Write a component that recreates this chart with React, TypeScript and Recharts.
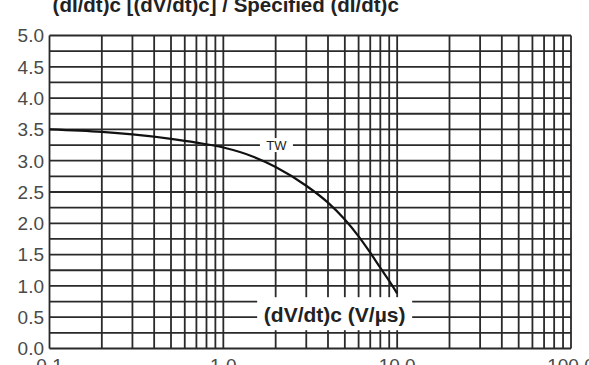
import { LineChart, Line, XAxis, YAxis, ReferenceLine, ReferenceDot } from 'recharts'

// commutating dV/dt (V/µs) vs ratio of commutating dI/dt to its specified value
const rateX = [0.1, 0.2, 0.3, 0.5, 0.7, 1, 1.5, 2, 3, 4, 5, 6, 7, 8, 9, 10]
const ratioY = [3.5, 3.46, 3.42, 3.35, 3.29, 3.21, 3.06, 2.9, 2.6, 2.33, 2.06, 1.79, 1.53, 1.29, 1.08, 0.88]

const xTicks = [0.1, 1, 10, 100]
const xTickLabels = ['0.1', '1.0', '10.0', '100.0']
const yTicks = [0, 0.5, 1, 1.5, 2, 2.5, 3, 3.5, 4, 4.5, 5]
const yTickLabels = ['0.0', '0.5', '1.0', '1.5', '2.0', '2.5', '3.0', '3.5', '4.0', '4.5', '5.0']

const gridX = [
  0.1, 0.2, 0.3, 0.4, 0.5, 0.6, 0.7, 0.8, 0.9,
  1, 2, 3, 4, 5, 6, 7, 8, 9,
  10, 20, 30, 40, 50, 60, 70, 80, 90, 100,
]
const gridY = [
  0, 0.25, 0.5, 0.75, 1, 1.25, 1.5, 1.75, 2, 2.25, 2.5,
  2.75, 3, 3.25, 3.5, 3.75, 4, 4.25, 4.5, 4.75, 5,
]

const title = '(dI/dt)c [(dV/dt)c] / Specified (dI/dt)c'
const seriesName = 'TW'
const xName = '(dV/dt)c (V/µs)'

const curve = rateX.map((x, i) => ({ x, y: ratioY[i] }))

const FONT = '"Liberation Sans", Arial, Helvetica, sans-serif'
const GRID = '#2a2a2a'

const XTick = (props: any) => {
  const { x, y, payload } = props
  const label = xTickLabels[xTicks.indexOf(payload.value)]
  return (
    <text x={x} y={y + 15} textAnchor="middle" fontSize={19} fontFamily={FONT} fill="#4a4a4a">
      {label}
    </text>
  )
}

const YTick = (props: any) => {
  const { x, y, payload } = props
  const label = yTickLabels[yTicks.indexOf(payload.value)]
  return (
    <text x={x + 2.5} y={y + 6.8} textAnchor="end" fontSize={19} fontFamily={FONT} fill="#4a4a4a">
      {label}
    </text>
  )
}

// white box with a label, sitting on top of the grid
const boxLabel = (
  text: string,
  w: number,
  h: number,
  boxTop: number,
  size: number,
  bold: boolean,
  baseline: number,
) =>
  (props: any) => {
    const { cx, cy } = props
    return (
      <g>
        <rect x={cx - w / 2} y={cy + boxTop} width={w} height={h} fill="#fff" />
        <text
          x={cx}
          y={cy + baseline}
          textAnchor="middle"
          fontSize={size}
          fontWeight={bold ? 'bold' : 'normal'}
          fontFamily={FONT}
          fill="#222"
        >
          {text}
        </text>
      </g>
    )
  }

export default function App() {
  return (
    <div style={{ position: 'absolute', left: 0, top: 0, width: 589, height: 365, background: '#fff', overflow: 'hidden' }}>
      <svg width={589} height={365} style={{ position: 'absolute', left: 0, top: 0 }}>
        <text x={52.6} y={12} fontSize={20.5} fontWeight="bold" fontFamily={FONT} fill="#222">
          {title}
        </text>
      </svg>
      <div style={{ position: 'absolute', left: 0, top: 0 }}>
        <LineChart
          width={589}
          height={365}
          data={curve}
          margin={{ top: 35.5, right: 18, bottom: 0, left: 0 }}
        >
          <XAxis
            dataKey="x"
            type="number"
            scale="log"
            domain={[0.1, 100]}
            ticks={xTicks}
            interval={0}
            allowDataOverflow
            tick={<XTick />}
            tickLine={false}
            axisLine={false}
            height={16.5}
          />
          <YAxis
            type="number"
            domain={[0, 5]}
            ticks={yTicks}
            interval={0}
            tick={<YTick />}
            tickLine={false}
            axisLine={false}
            width={49.5}
          />
          {gridY.map((v) => (
            <ReferenceLine key={`h${v}`} y={v} stroke={GRID} strokeWidth={1.8} />
          ))}
          {gridX.map((v) => (
            <ReferenceLine key={`v${v}`} x={v} stroke={GRID} strokeWidth={1.8} />
          ))}
          <Line
            dataKey="y"
            type="monotone"
            stroke="#111"
            strokeWidth={2.2}
            dot={false}
            isAnimationActive={false}
          />
          <ReferenceDot
            x={2.02}
            y={3.25}
            r={0}
            shape={boxLabel(seriesName, 33, 14, -7, 13, false, 4.7)}
          />
          <ReferenceDot
            x={4.37}
            y={0.5}
            r={0}
            shape={boxLabel(xName, 155, 33, -20, 21, true, 4.5)}
          />
        </LineChart>
      </div>
    </div>
  )
}
